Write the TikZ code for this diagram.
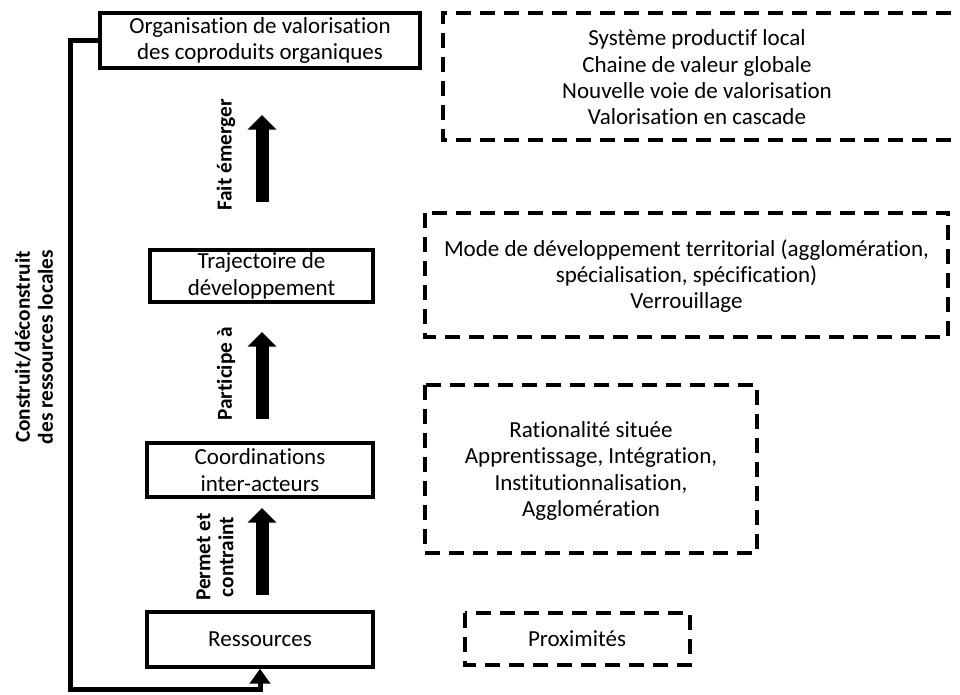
\documentclass[tikz,border=0pt]{standalone}
\usepackage{fontspec}
\setmainfont{Carlito}[Ligatures=NoCommon]
\usetikzlibrary{arrows.meta}

\begin{document}
\begin{tikzpicture}[x=0.75pt,y=-0.75pt,
		box/.style={draw,line width=3pt,inner sep=0pt,align=center,
			font=\fontsize{17.25}{19.75}\selectfont},
		dashbox/.style={draw,line width=3pt,dash pattern=on 11pt off 7pt},
		txt/.style={align=center,font=\fontsize{17.25}{19.75}\selectfont},
		lab/.style={rotate=90,align=center,font=\bfseries\fontsize{16}{17.25}\selectfont},
		bigarrow/.style={line width=9.75pt,-{Triangle[width=21pt,length=11pt]}},
		loopline/.style={line width=3.75pt,-{Triangle[width=15pt,length=11pt]}}]

					% frame
					\useasboundingbox (0,0) rectangle (960,695);

					% main boxes
					\node [box,minimum width=240pt,minimum height=41pt] (orga) at (260,40.5)
						{Organisation de valorisation\\des coproduits organiques};
					\node [box,minimum width=167pt,minimum height=39pt] (traj) at (261.5,276)
						{Trajectoire de\\développement};
					\node [box,minimum width=170pt,minimum height=40.5pt] (coord) at (260,470)
						{Coordinations\\inter-acteurs};
					\node [box,minimum width=170pt,minimum height=41pt] (ress) at (260,639.5)
						{Ressources};

					% arrows
					\coordinate (fe1) at (262,202);
					\coordinate (fe2) at (262,115);
					\coordinate (pa1) at (262,419);
					\coordinate (pa2) at (262,332);
					\coordinate (pc1) at (262,595);
					\coordinate (pc2) at (262,508);
					\draw [bigarrow] (fe1) -- (fe2);
					\draw [bigarrow] (pa1) -- (pa2);
					\draw [bigarrow] (pc1) -- (pc2);

					% labels
					\node [lab] (fait) at (226,155) {Fait émerger};
					\node [lab] (part) at (226,374) {Participe à};
					\node [lab] (perm) at (215,557) {Permet et\\contraint};
					\node [lab] (cons) at (34,347) {Construit/déconstruit\\des ressources locales};

					% loop
					\draw [loopline] (orga.west) -- ++(-28,0) |- ([yshift=-15.75pt]ress.south) -- (ress.south);

					% dashed boxes
					\draw [dashbox] (975,13) -- (443,13) -- (443,140) -- (975,140);
					\node [txt] (sys) at (697,77.5)
						{Système productif local\\Chaine de valeur globale\\Nouvelle voie de valorisation\\Valorisation en cascade};
					\draw [dashbox] (425,213) rectangle (948,337);
					\node [txt] (mode) at (686.5,276)
						{Mode de développement territorial (agglomération,\\spécialisation, spécification)\\Verrouillage};
					\draw [dashbox] (425,385) rectangle (757,553);
					\node [txt] (rat) at (591,471)
						{Rationalité située\\Apprentissage, Intégration,\\Institutionnalisation,\\Agglomération};
					\draw [dashbox] (465,613) rectangle (690,665);
					\node [txt] (prox) at (577,639) {Proximités};

				\end{tikzpicture}
\end{document}
